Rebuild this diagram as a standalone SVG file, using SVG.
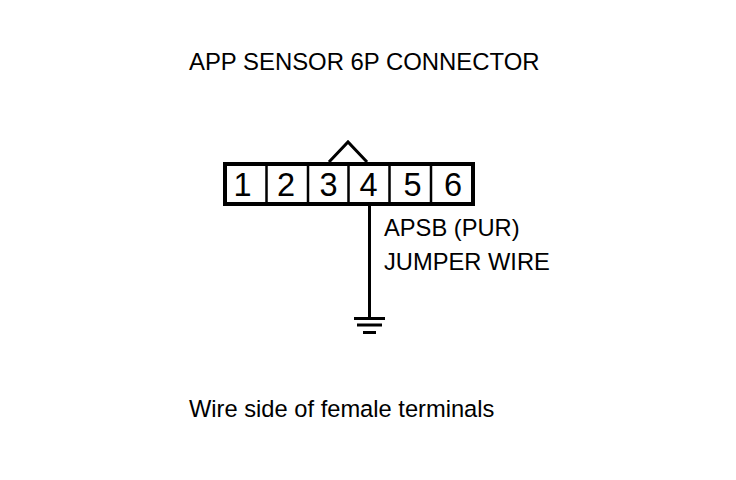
<svg xmlns="http://www.w3.org/2000/svg" width="736" height="480" viewBox="0 0 736 480">
<style>
text{font-family:"Liberation Sans",Arial,sans-serif;fill:#000}
.t{font-size:23.9px}
.l{font-size:23.7px}
.n{font-size:32.5px;text-anchor:middle}
.s{fill:none;stroke:#000;stroke-width:3}
.d{fill:none;stroke:#000;stroke-width:2.500}
.b{fill:none;stroke:#000;stroke-width:4}
</style>
<rect width="736" height="480" fill="#fff"/>
<text class="t" x="189" y="70">APP SENSOR 6P CONNECTOR</text>
<g id="connector">
<rect class="b" x="225" y="164" width="248" height="40"/>
<path class="d" d="M266.500 164V204M308 164V204M348.500 164V204M389.500 164V204M431 164V204"/>
<text class="n" x="242.500" y="195.500">1</text>
<text class="n" x="286" y="195.500">2</text>
<text class="n" x="328.500" y="195.500">3</text>
<text class="n" x="368.500" y="195.500">4</text>
<text class="n" x="412.500" y="195.500">5</text>
<text class="n" x="453" y="195.500">6</text>
</g>
<g id="connectors">
<path class="s" d="M329 162L348 142L367 162"/>
<path class="s" d="M369.500 205V317"/>
</g>
<g id="ground">
<path class="s" d="M354 318.500H385M357 325H382M363 332.500H376"/>
</g>
<text class="l" x="384" y="236">APSB (PUR)</text>
<text class="l" x="384" y="270">JUMPER WIRE</text>
<text class="l" x="189" y="417">Wire side of female terminals</text>
</svg>
